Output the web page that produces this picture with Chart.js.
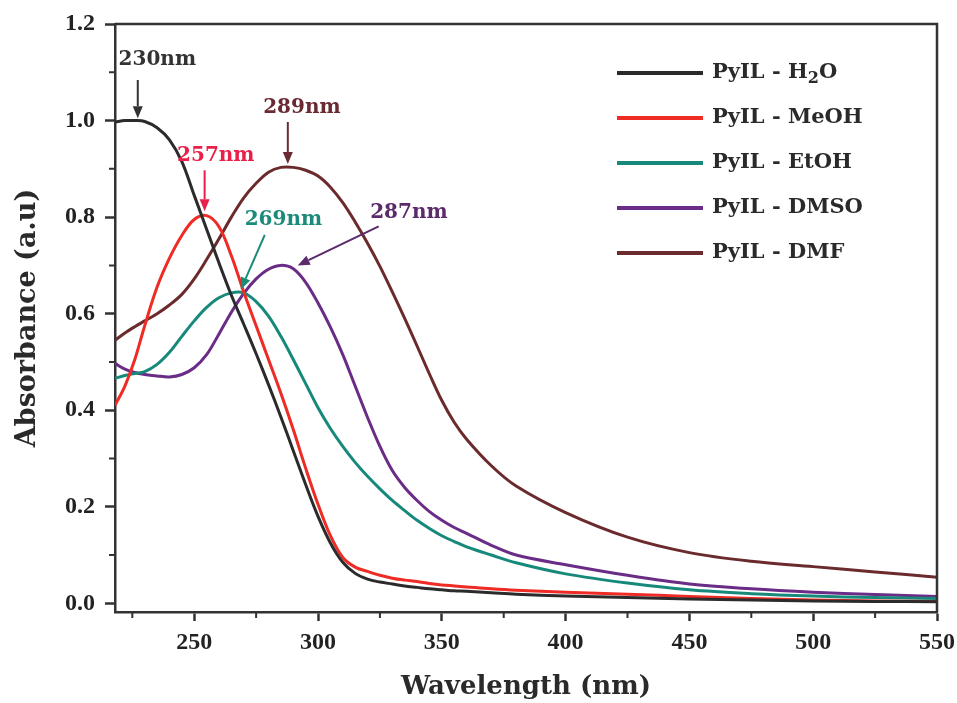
<!DOCTYPE html>
<html>
<head>
<meta charset="utf-8">
<script src="https://cdn.jsdelivr.net/npm/chart.js@4.4.0/dist/chart.umd.min.js"></script>
<style>
  html, body { margin: 0; padding: 0; background: #fff; }
  canvas { display: block; }
</style>
</head>
<body>
<canvas id="uvChart" width="957" height="703"></canvas>
<script>
// wavelength grid (nm) shared by all spectra
const wavelengths = [218, 222, 226, 230, 235, 240, 245, 250, 255, 260, 265, 270, 275, 280, 285, 290, 295, 300,
    305, 310, 315, 320, 325, 330, 335, 340, 345, 350, 355, 360, 370, 380, 400, 425, 450, 475, 500, 525, 550];

const h2oAbs  = [0.997, 1.0, 1.0, 0.998, 0.985, 0.96, 0.915, 0.845, 0.775, 0.705, 0.638, 0.578, 0.517, 0.453, 0.386, 0.316, 0.246, 0.18,
    0.125, 0.085, 0.062, 0.05, 0.044, 0.04, 0.036, 0.033, 0.03, 0.028, 0.026, 0.025, 0.022, 0.019, 0.015, 0.012, 0.009, 0.007, 0.005, 0.004, 0.003];
const meohAbs = [0.41, 0.45, 0.505, 0.575, 0.655, 0.715, 0.762, 0.795, 0.803, 0.78, 0.72, 0.645, 0.575, 0.505, 0.435, 0.36, 0.28, 0.205,
    0.14, 0.095, 0.075, 0.066, 0.058, 0.052, 0.048, 0.045, 0.041, 0.038, 0.036, 0.034, 0.03, 0.027, 0.023, 0.019, 0.014, 0.01, 0.007, 0.005, 0.004];
const etohAbs = [0.466, 0.472, 0.476, 0.48, 0.495, 0.52, 0.553, 0.585, 0.613, 0.633, 0.643, 0.643, 0.625, 0.595, 0.553, 0.505, 0.455, 0.405,
    0.362, 0.325, 0.292, 0.263, 0.237, 0.213, 0.192, 0.172, 0.155, 0.14, 0.128, 0.117, 0.1, 0.084, 0.061, 0.042, 0.028, 0.02, 0.015, 0.012, 0.01];
const dmsoAbs = [0.497, 0.485, 0.478, 0.474, 0.471, 0.469, 0.474, 0.488, 0.515, 0.558, 0.603, 0.642, 0.672, 0.692, 0.70, 0.693, 0.665, 0.622,
    0.572, 0.515, 0.45, 0.385, 0.325, 0.275, 0.24, 0.213, 0.19, 0.172, 0.157, 0.145, 0.12, 0.1, 0.08, 0.058, 0.04, 0.03, 0.023, 0.018, 0.014];
const dmfAbs  = [0.545, 0.56, 0.573, 0.585, 0.6, 0.618, 0.64, 0.672, 0.712, 0.755, 0.8, 0.84, 0.87, 0.893, 0.903, 0.903, 0.897, 0.885,
    0.862, 0.83, 0.79, 0.746, 0.698, 0.645, 0.59, 0.533, 0.475, 0.42, 0.375, 0.34, 0.285, 0.243, 0.188, 0.137, 0.105, 0.087, 0.076, 0.065, 0.054];

const seriesLabels = ['PyIL - H_2O', 'PyIL - MeOH', 'PyIL - EtOH', 'PyIL - DMSO', 'PyIL - DMF'];
const seriesColors = ['#2b2b2b', '#ee2b25', '#16897b', '#6a2c86', '#6b2b2d'];
const seriesValues = [h2oAbs, meohAbs, etohAbs, dmsoAbs, dmfAbs];

// minor tick positions
const xMinorTicks = [225, 275, 325, 375, 425, 475, 525];
const yMinorTicks = [0.1, 0.3, 0.5, 0.7, 0.9, 1.1];

// peak annotations (data units)
const peakTexts   = ['230nm', '257nm', '289nm', '269nm', '287nm'];
const peakTextX   = [235.1, 258.7, 293.5, 286.0, 336.7];
const peakTextY   = [1.125, 0.928, 1.026, 0.794, 0.808];
const arrowFromX  = [227.2, 254.2, 287.8, 278.5, 324.5];
const arrowFromY  = [1.084, 0.897, 0.997, 0.763, 0.781];
const arrowToX    = [227.2, 254.2, 287.8, 268.8, 291.8];
const arrowToY    = [1.005, 0.812, 0.91, 0.65, 0.70];
const peakColors  = ['#333333', '#e8204a', '#6b2a33', '#1b8a78', '#5b2b6b'];

const AXIS_COLOR = '#333';
const SERIF = "'DejaVu Serif', serif";
const TIMES = "'Liberation Serif', 'Times New Roman', serif";

const datasets = seriesValues.map((vals, i) => ({
    label: seriesLabels[i],
    data: wavelengths.map((w, j) => ({ x: w, y: vals[j] })),
    borderColor: seriesColors[i],
    backgroundColor: seriesColors[i],
    borderWidth: 3,
    pointRadius: 0,
    tension: 0.35,
    fill: false
}));

function drawRichText(ctx, text, x, y, fontSize) {
    // "_" marks a one-character subscript
    const parts = text.split('_');
    let cx = x;
    ctx.font = `bold ${fontSize}px ${SERIF}`;
    ctx.fillText(parts[0], cx, y);
    cx += ctx.measureText(parts[0]).width;
    for (let k = 1; k < parts.length; k++) {
        const sub = parts[k].charAt(0);
        const rest = parts[k].slice(1);
        ctx.font = `bold ${Math.round(fontSize * 0.75)}px ${SERIF}`;
        ctx.fillText(sub, cx, y + fontSize * 0.28);
        cx += ctx.measureText(sub).width;
        ctx.font = `bold ${fontSize}px ${SERIF}`;
        ctx.fillText(rest, cx, y);
        cx += ctx.measureText(rest).width;
    }
}

const decorPlugin = {
    id: 'decor',
    afterDraw(chart) {
        const { ctx, chartArea, scales } = chart;
        const xs = scales.x, ys = scales.y;
        ctx.save();

        // top and right frame
        ctx.strokeStyle = AXIS_COLOR;
        ctx.lineWidth = 2.5;
        ctx.beginPath();
        ctx.moveTo(chartArea.left, chartArea.top);
        ctx.lineTo(chartArea.right, chartArea.top);
        ctx.lineTo(chartArea.right, chartArea.bottom);
        ctx.stroke();

        // minor ticks (outward)
        ctx.lineWidth = 2;
        ctx.beginPath();
        xMinorTicks.forEach(v => {
            const px = xs.getPixelForValue(v);
            ctx.moveTo(px, chartArea.bottom);
            ctx.lineTo(px, chartArea.bottom + 6);
        });
        yMinorTicks.forEach(v => {
            const py = ys.getPixelForValue(v);
            ctx.moveTo(chartArea.left, py);
            ctx.lineTo(chartArea.left - 6, py);
        });
        ctx.stroke();

        // peak annotations
        ctx.textAlign = 'center';
        ctx.textBaseline = 'middle';
        peakTexts.forEach((t, i) => {
            ctx.fillStyle = peakColors[i];
            ctx.strokeStyle = peakColors[i];
            ctx.font = `bold 20px ${SERIF}`;
            ctx.fillText(t, xs.getPixelForValue(peakTextX[i]), ys.getPixelForValue(peakTextY[i]));

            const x1 = xs.getPixelForValue(arrowFromX[i]), y1 = ys.getPixelForValue(arrowFromY[i]);
            const x2 = xs.getPixelForValue(arrowToX[i]), y2 = ys.getPixelForValue(arrowToY[i]);
            const ang = Math.atan2(y2 - y1, x2 - x1);
            const headLen = 12, headW = 5;
            ctx.lineWidth = 2;
            ctx.beginPath();
            ctx.moveTo(x1, y1);
            ctx.lineTo(x2 - headLen * Math.cos(ang), y2 - headLen * Math.sin(ang));
            ctx.stroke();
            ctx.beginPath();
            ctx.moveTo(x2, y2);
            ctx.lineTo(x2 - headLen * Math.cos(ang) + headW * Math.sin(ang), y2 - headLen * Math.sin(ang) - headW * Math.cos(ang));
            ctx.lineTo(x2 - headLen * Math.cos(ang) - headW * Math.sin(ang), y2 - headLen * Math.sin(ang) + headW * Math.cos(ang));
            ctx.closePath();
            ctx.fill();
        });

        // legend inside the plot, top right
        const lx = chartArea.right - 320;
        const ly = chartArea.top + 49;
        ctx.textAlign = 'left';
        ctx.textBaseline = 'middle';
        seriesLabels.forEach((lab, i) => {
            const yy = ly + i * 45;
            ctx.strokeStyle = seriesColors[i];
            ctx.lineWidth = 4;
            ctx.beginPath();
            ctx.moveTo(lx, yy);
            ctx.lineTo(lx + 86, yy);
            ctx.stroke();
            ctx.fillStyle = '#2a2a2a';
            drawRichText(ctx, lab, lx + 95, yy, 21);
        });

        ctx.restore();
    }
};

new Chart(document.getElementById('uvChart'), {
    type: 'line',
    data: { datasets },
    plugins: [decorPlugin],
    options: {
        responsive: false,
        animation: false,
        devicePixelRatio: 1,
        layout: { padding: { top: 24, right: 20, left: 0, bottom: 0 } },
        plugins: {
            legend: { display: false },
            tooltip: { enabled: false }
        },
        scales: {
            x: {
                type: 'linear',
                min: 218,
                max: 550,
                afterFit: s => { s.height = 91; s.paddingRight = 0; s.paddingLeft = 0; },
                ticks: {
                    stepSize: 50,
                    includeBounds: false,
                    padding: 7,
                    color: '#222',
                    font: { family: TIMES, size: 24, weight: 'bold' },
                    maxRotation: 0
                },
                grid: { drawOnChartArea: false, tickLength: 9, tickWidth: 2.5, tickColor: AXIS_COLOR },
                border: { color: AXIS_COLOR, width: 2.5 },
                title: {
                    display: true,
                    text: 'Wavelength (nm)',
                    color: '#2a2a2a',
                    font: { family: SERIF, size: 26, weight: 'bold' },
                    padding: { top: 0, bottom: 0 }
                }
            },
            y: {
                type: 'linear',
                min: -0.018,
                max: 1.2,
                afterFit: s => { s.width = 115; s.paddingTop = 0; s.paddingBottom = 0; },
                ticks: {
                    stepSize: 0.2,
                    includeBounds: false,
                    padding: 10,
                    color: '#222',
                    font: { family: TIMES, size: 24, weight: 'bold' },
                    callback: v => v.toFixed(1)
                },
                grid: { drawOnChartArea: false, tickLength: 10, tickWidth: 2.5, tickColor: AXIS_COLOR },
                border: { color: AXIS_COLOR, width: 2.5 },
                title: {
                    display: true,
                    text: 'Absorbance (a.u)',
                    color: '#2a2a2a',
                    font: { family: SERIF, size: 27, weight: 'bold' },
                    padding: { top: 12, bottom: 0 }
                }
            }
        }
    }
});
</script>
</body>
</html>
